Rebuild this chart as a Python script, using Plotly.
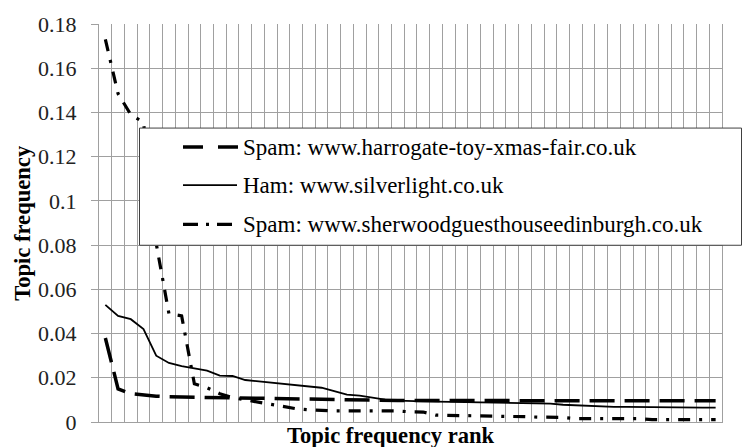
import plotly.graph_objects as go

# ---------------- data ----------------
ranks = list(range(1, 50))

spam_harrogate = [0.038, 0.015, 0.0128, 0.0121, 0.0117, 0.0114, 0.0113, 0.0112, 0.0111, 0.0109,
                  0.0107, 0.0105, 0.0104, 0.0104, 0.0104, 0.0103, 0.0102, 0.0100, 0.0099, 0.0098,
                  0.0097, 0.0097, 0.0097, 0.0097, 0.0097, 0.0097, 0.0097, 0.0096, 0.0096, 0.0096,
                  0.0096, 0.0096, 0.0096, 0.0096, 0.0096, 0.0096, 0.0096, 0.0096, 0.0096, 0.0096,
                  0.0096, 0.0096, 0.0096, 0.0096, 0.0096, 0.0096, 0.0096, 0.0096, 0.0096]

ham_silverlight = [0.053, 0.048, 0.0465, 0.042, 0.030, 0.0267, 0.0253, 0.0244, 0.0232, 0.021,
                   0.0208, 0.019, 0.0184, 0.0177, 0.0171, 0.0167, 0.0162, 0.0155, 0.014, 0.0124,
                   0.0119, 0.011, 0.0101, 0.0097, 0.0094, 0.0093, 0.0092, 0.0091, 0.009, 0.0089,
                   0.0089, 0.0089, 0.0089, 0.0088, 0.0087, 0.0083, 0.0078, 0.0075, 0.0072, 0.007,
                   0.0068, 0.0068, 0.0067, 0.0067, 0.0067, 0.0066, 0.0066, 0.0065, 0.0065]

spam_sherwood = [0.173, 0.1485, 0.139, 0.1355, 0.0807, 0.049, 0.048, 0.0173, 0.0155, 0.0128,
                 0.011, 0.0100, 0.0088, 0.0077, 0.0067, 0.006, 0.0055, 0.0051, 0.005, 0.005,
                 0.005, 0.005, 0.005, 0.005, 0.0046, 0.0045, 0.0031, 0.003, 0.003, 0.003,
                 0.003, 0.0026, 0.0025, 0.0024, 0.0022, 0.0021, 0.0021, 0.0015, 0.0015, 0.0015,
                 0.0015, 0.0015, 0.0015, 0.0011, 0.0011, 0.0011, 0.0011, 0.0011, 0.0011]

series_names = ["Spam: www.harrogate-toy-xmas-fair.co.uk",
                "Ham: www.silverlight.co.uk",
                "Spam: www.sherwoodguesthouseedinburgh.co.uk"]

y_tickvals = [0, 0.02, 0.04, 0.06, 0.08, 0.1, 0.12, 0.14, 0.16, 0.18]
y_ticktext = ["0", "0.02", "0.04", "0.06", "0.08", "0.1", "0.12", "0.14", "0.16", "0.18"]

x_title = "Topic frequency rank"
y_title = "Topic frequency"

# ---------------- layout geometry ----------------
W_PX, H_PX = 743, 447
L, R, T, B = 99, 722, 18.6, 421.7
PW, PH = R - L, B - T


def px(x):
    return (x - L) / PW


def py(y):
    return (B - y) / PH


FONT = "Liberation Serif"
GRID = "#a0a0a0"

styles = [
    dict(width=3.5, dash="25px,10px"),
    dict(width=1.8, dash="solid"),
    dict(width=3.2, dash="12px,9px,3px,9px"),
]
legend_dash = ["20px,15px", "solid", "15px,8px,3px,8px"]
legend_x1 = [238, 237, 232]

fig = go.Figure()
for name, vals, st in zip(series_names, [spam_harrogate, ham_silverlight, spam_sherwood], styles):
    fig.add_trace(go.Scatter(x=ranks, y=vals, mode="lines", name=name,
                             line=dict(color="black", width=st["width"], dash=st["dash"]),
                             showlegend=False))

shapes = []
annotations = []

# legend box
shapes.append(dict(type="rect", xref="paper", yref="paper",
                   x0=px(139.5), x1=px(741.5), y0=py(242.7), y1=py(124),
                   fillcolor="white", line=dict(color="#404040", width=1), layer="above"))
row_y = [143.3, 181.7, 221.5]
for i, name in enumerate(series_names):
    shapes.append(dict(type="line", xref="paper", yref="paper",
                       x0=px(183), x1=px(legend_x1[i]), y0=py(row_y[i]), y1=py(row_y[i]),
                       line=dict(color="black", width=styles[i]["width"], dash=legend_dash[i]),
                       layer="above"))
    annotations.append(dict(xref="paper", yref="paper", x=px(241), y=py(row_y[i]),
                            xanchor="left", yanchor="middle", showarrow=False, text=name,
                            font=dict(family=FONT, size=23, color="black")))

# axis titles
annotations.append(dict(xref="paper", yref="paper", x=px(391), y=py(435),
                        xanchor="center", yanchor="middle", showarrow=False,
                        text="<b>" + x_title + "</b>",
                        font=dict(family=FONT, size=22.6, color="black")))
annotations.append(dict(xref="paper", yref="paper", x=px(23), y=py(220),
                        xanchor="center", yanchor="middle", showarrow=False, textangle=-90,
                        text="<b>" + y_title + "</b>",
                        font=dict(family=FONT, size=22.6, color="black")))

fig.update_layout(
    width=W_PX, height=H_PX,
    margin=dict(l=L, r=W_PX - R, t=T, b=H_PX - B, pad=0),
    paper_bgcolor="white", plot_bgcolor="white",
    font=dict(family=FONT, size=22, color="#222"),
    shapes=shapes, annotations=annotations,
    showlegend=False,
    xaxis=dict(range=[0.5, 49.5], tickmode="linear", tick0=0.5, dtick=1,
               showticklabels=False, ticks="", showgrid=True, gridcolor=GRID, gridwidth=1,
               showline=True, linecolor=GRID, linewidth=1, zeroline=False, fixedrange=True),
    yaxis=dict(range=[0, 0.18], tickmode="array", tickvals=y_tickvals, ticktext=y_ticktext,
               showgrid=False, ticks="outside", ticklen=7, tickcolor=GRID, tickwidth=1,
               ticklabelstandoff=10,
               tickfont=dict(family=FONT, size=22, color="#222"),
               minor=dict(tickmode="array", tickvals=y_tickvals[1:-1], showgrid=True,
                          gridcolor=GRID, gridwidth=1, ticks=""),
               showline=True, linecolor=GRID, linewidth=1, mirror=True,
               zeroline=False, fixedrange=True),
)

fig.write_html("out.html")
